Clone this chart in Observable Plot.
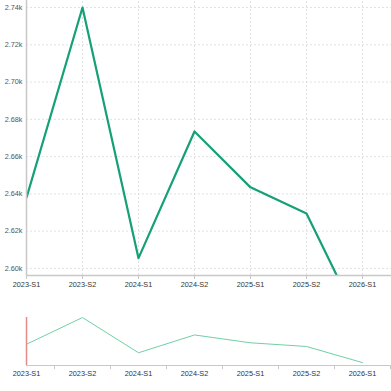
<!DOCTYPE html>
<html><head><meta charset="utf-8">
<script src="https://cdn.jsdelivr.net/npm/d3@7"></script>
<script src="https://cdn.jsdelivr.net/npm/@observablehq/plot@0.6"></script>
<style>
body{margin:0;background:#fff;}
svg{display:block;}
</style></head>
<body><div id="chart"></div>
<script>
const categories = ["2023-S1","2023-S2","2024-S1","2024-S2","2025-S1","2025-S2","2026-S1"];
const values = [2638, 2740, 2605.5, 2673.5, 2643.5, 2629.5, 2568];
const yTicks = [2600, 2620, 2640, 2660, 2680, 2700, 2720, 2740];

const data = categories.map((c, i) => ({i, c, v: values[i]}));
const idx = categories.map((c, i) => i);
const font = "Liberation Sans, Arial, sans-serif";
const xDomain = [0, 365/56];
const fmtY = v => (v/1000).toFixed(2) + "k";
const fmtX = i => categories[i] ?? "";

const main = Plot.plot({
  width: 391, height: 295,
  marginLeft: 26, marginRight: 0, marginTop: 2, marginBottom: 20,
  style: {fontFamily: font, fontSize: "7.3px", color: "#333", background: "#fff"},
  x: {domain: xDomain, axis: null, label: null},
  y: {domain: [2596.2, 2742.7], axis: null, label: null},
  marks: [
    Plot.ruleY(yTicks, {stroke: "#d9d9d9", strokeDasharray: "2,2", strokeWidth: 0.8}),
    Plot.ruleX(idx, {stroke: "#d9d9d9", strokeDasharray: "2,2", strokeWidth: 0.8, y1: 2596.2, y2: 2760}),
    Plot.line(data, {x: "i", y: "v", stroke: "#15a077", strokeWidth: 2.2, clip: true}),
    Plot.ruleX([0], {stroke: "#c8c8c8", strokeWidth: 1.5, y1: 2596.2, y2: 2760}),
    Plot.ruleY([2596.2], {stroke: "#c8c8c8", strokeWidth: 1.5}),
    Plot.axisX(idx, {tickSize: 4, tickPadding: 2, tickFormat: fmtX, stroke: "#c8c8c8", fill: "#333", label: null}),
    Plot.axisY(yTicks, {tickSize: 0, tickPadding: 4, tickFormat: fmtY, fill: "#555", label: null})
  ]
});

const mids = [0.5, 1.5, 2.5, 3.5, 4.5, 5.5, 6.5];
const overview = Plot.plot({
  width: 391, height: 96,
  marginLeft: 26, marginRight: 0, marginTop: 22, marginBottom: 26,
  style: {fontFamily: font, fontSize: "7.3px", color: "#333", background: "#fff"},
  x: {domain: xDomain, axis: null, label: null},
  y: {domain: [2557, 2740], axis: null, label: null},
  marks: [
    Plot.ruleY([2557], {stroke: "#c8c8c8", strokeWidth: 1.2}),
    Plot.axisX(mids, {tickSize: 4, tickFormat: () => "", stroke: "#c8c8c8", label: null}),
    Plot.axisX(idx, {tickSize: 0, tickPadding: 5, tickFormat: fmtX, fill: "#333", label: null}),
    Plot.line(data, {x: "i", y: "v", stroke: "#6fd0a5", strokeWidth: 1}),
    Plot.ruleX([0], {stroke: "#e28b8b", strokeWidth: 1.5, y1: 2557, y2: 2740})
  ]
});

document.getElementById("chart").append(main, overview);
</script>
</body></html>
